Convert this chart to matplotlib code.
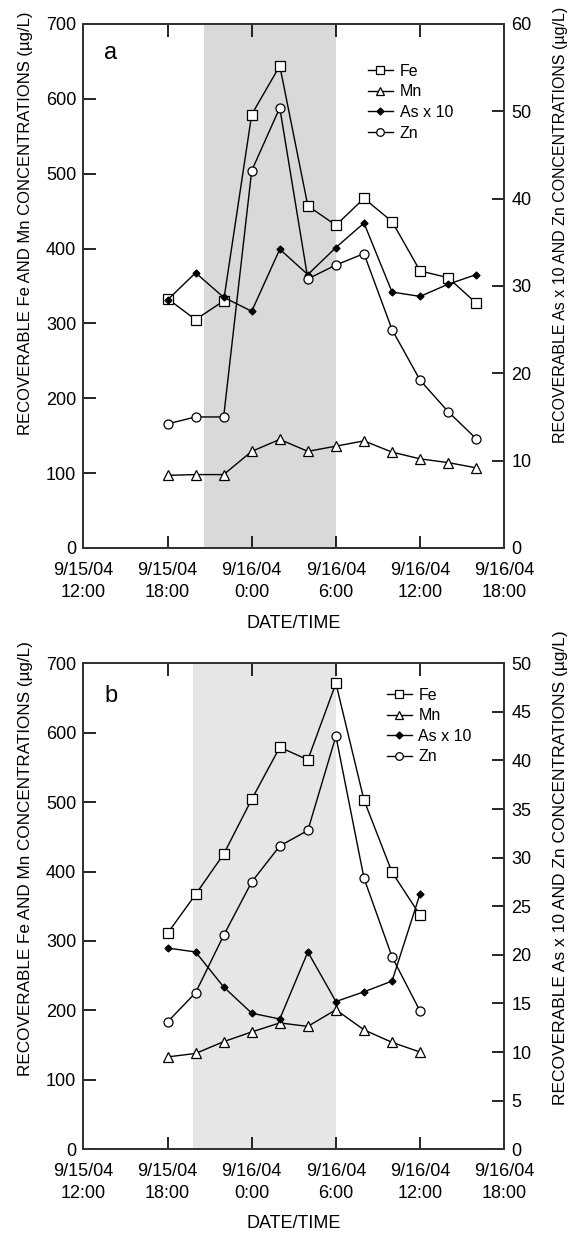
import matplotlib
matplotlib.use('Agg')
import matplotlib.pyplot as plt
from matplotlib.lines import Line2D

plt.rcParams['font.family'] = ['Liberation Sans', 'DejaVu Sans']

# hours after 9/15/04 12:00
hours_a = [6, 8, 10, 12, 14, 16, 18, 20, 22, 24, 26, 28]
fe_a = [333, 305, 330, 579, 644, 457, 431, 467, 436, 370, 361, 327]
mn_a = [97, 98, 98, 129, 145, 129, 136, 143, 128, 119, 114, 107]
as_a = [28.4, 31.5, 28.7, 27.1, 34.2, 31.3, 34.4, 37.2, 29.3, 28.8, 30.2, 31.3]
zn_a = [14.2, 15.0, 15.0, 43.2, 50.4, 30.8, 32.4, 33.7, 25.0, 19.2, 15.6, 12.5]

hours_b = [6, 8, 10, 12, 14, 16, 18, 20, 22, 24]
fe_b = [311, 367, 425, 504, 579, 561, 671, 503, 399, 337]
mn_b = [133, 138, 155, 169, 182, 177, 201, 172, 154, 140]
as_b = [20.7, 20.3, 16.7, 14.0, 13.4, 20.3, 15.2, 16.2, 17.3, 26.3]
zn_b = [13.1, 16.1, 22.0, 27.5, 31.2, 32.8, 42.5, 27.9, 19.8, 14.2]

night_a = (8.6, 18)
night_b = (7.8, 18)

xticks = [0, 6, 12, 18, 24, 30]
xticklabels = ['9/15/04\n12:00', '9/15/04\n18:00', '9/16/04\n0:00',
               '9/16/04\n6:00', '9/16/04\n12:00', '9/16/04\n18:00']

FS = 13
fig = plt.figure(figsize=(5.81, 12.33), dpi=100)


def panel(rect, letter, hrs, fe, mn, ars, zn, night, shade, rmax, rstep,
          leg_anchor, letter_y, lab_y, xlab_y, lab_fs):
    ax = fig.add_axes(rect)
    ax2 = ax.twinx()
    ax.axvspan(night[0], night[1], color=shade, lw=0, zorder=0)
    ax.set_xlim(0, 30)
    ax.set_ylim(0, 700)
    ax2.set_ylim(0, rmax)
    ax.set_xticks(xticks)
    ax.set_xticklabels(xticklabels, fontsize=FS, linespacing=1.4)
    ax.set_yticks(range(0, 701, 100))
    ax2.set_yticks(range(0, rmax + 1, rstep))
    ax.tick_params(axis='both', direction='in', length=9, width=1.2, labelsize=FS, top=True, pad=5)
    ax.tick_params(axis='x', pad=10)
    ax2.tick_params(axis='y', direction='in', length=9, width=1.2, labelsize=FS, pad=5)
    for a in (ax, ax2):
        for s in a.spines.values():
            s.set_linewidth(1.4)
            s.set_color('#333333')

    lk = dict(color='black', lw=1.0, mfc='white', mec='black', mew=0.9)
    ax.plot(hrs, fe, marker='s', ms=7, **lk)
    ax.plot(hrs, mn, marker='^', ms=6.5, **lk)
    ax2.plot(hrs, ars, marker='D', ms=3.5, color='black', lw=1.0, mfc='black', mec='black')
    ax2.plot(hrs, zn, marker='o', ms=6.5, **lk)

    ax.set_xlabel('DATE/TIME', fontsize=FS, va='center')
    ax.xaxis.set_label_coords(0.5, xlab_y)
    ax.set_ylabel('RECOVERABLE Fe AND Mn CONCENTRATIONS (\u00b5g/L)', fontsize=lab_fs[0],
                  va='center', ha='center')
    ax.yaxis.set_label_coords(-0.1385, lab_y[0])
    ax2.set_ylabel('RECOVERABLE As x 10 AND Zn CONCENTRATIONS (\u00b5g/L)', fontsize=lab_fs[1],
                   va='center', ha='center')
    ax2.yaxis.set_label_coords(1.1346, lab_y[1])
    ax.text(0.05, letter_y, letter, transform=ax.transAxes, fontsize=17, va='top', ha='left')

    handles = [
        Line2D([], [], marker='s', ms=5.5, **lk),
        Line2D([], [], marker='^', ms=5.5, **lk),
        Line2D([], [], marker='D', ms=3.5, color='black', lw=1.0, mfc='black'),
        Line2D([], [], marker='o', ms=5.5, **lk),
    ]
    ax2.legend(handles, ['Fe', 'Mn', 'As x 10', 'Zn'], loc='upper left',
               bbox_to_anchor=leg_anchor, frameon=False, fontsize=11.5,
               handlelength=1.6, handletextpad=0.4, labelspacing=0.35, borderaxespad=0)
    return ax, ax2


panel([0.1434, 0.5556, 0.7246, 0.425], 'a', hours_a, fe_a, mn_a, as_a, zn_a,
      night_a, '#d9d9d9', 60, 10, (0.66, 0.936), 0.965, (0.620, 0.616), -0.145, (12, 11.5))
panel([0.1434, 0.0679, 0.7246, 0.3942], 'b', hours_b, fe_b, mn_b, as_b, zn_b,
      night_b, '#e6e6e6', 50, 5, (0.705, 0.963), 0.955, (0.599, 0.579), -0.152, (12.3, 12.5))

fig.savefig('out.png', dpi=100)
